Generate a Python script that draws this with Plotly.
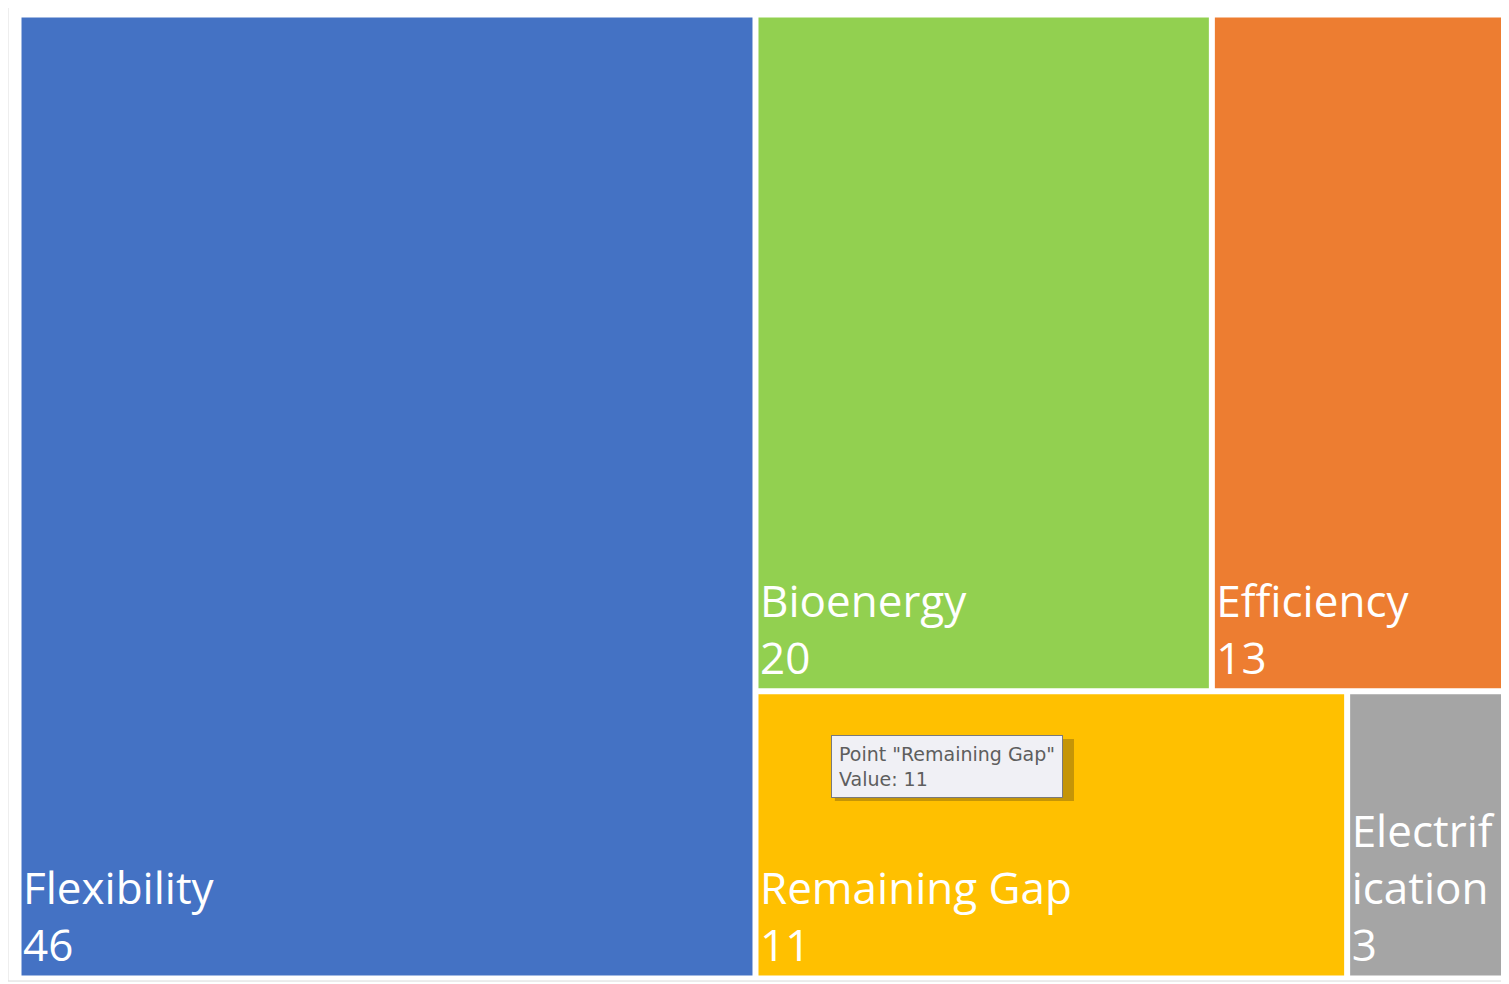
import plotly.graph_objects as go

labels = ["Flexibility", "Bioenergy", "Efficiency", "Remaining Gap", "Electrification"]
values = [46, 20, 13, 11, 3]
display_text = ["Flexibility", "Bioenergy", "Efficiency", "Remaining Gap", "Electrif<br>ication"]
colors = ["#4472C4", "#92D050", "#ED7D31", "#FFC000", "#A5A5A5"]
parents = ["", "", "", "", ""]

fig = go.Figure(go.Treemap(
    labels=labels,
    parents=parents,
    values=values,
    text=display_text,
    texttemplate="%{text}<br>%{value}",
    textposition="bottom left",
    textfont=dict(family="Open Sans", size=44, color="white"),
    marker=dict(colors=colors, line=dict(color="white", width=3),
                pad=dict(t=0, l=0, r=0, b=0)),
    tiling=dict(packing="squarify", squarifyratio=1.618),
    pathbar=dict(visible=False),
    sort=True,
    hoverinfo="skip",
))

fig.update_layout(
    width=1509, height=984,
    margin=dict(l=12, r=10, t=8, b=15),
    paper_bgcolor="white",
    showlegend=False,
    shapes=[
        dict(type="rect", xref="paper", yref="paper",
             x0=-0.0081, x1=1.02, y0=-0.0042, y1=1.0114,
             line=dict(color="#D9D9D9", width=1), fillcolor="rgba(0,0,0,0)"),
        dict(type="rect", xref="paper", yref="paper",
             x0=0.548, x1=0.7088, y0=0.1831, y1=0.2477,
             line=dict(width=0), fillcolor="rgba(90,70,20,0.35)"),
    ],
    annotations=[
        dict(text="Point \"Remaining Gap\"<br>Value: 11", xref="paper", yref="paper",
             x=0.5454, y=0.2518, xanchor="left", yanchor="top", showarrow=False,
             align="left", font=dict(family="DejaVu Sans", size=19, color="#5E5E5E"),
             bgcolor="#F0F0F5", bordercolor="#7A7A7A", borderwidth=1, borderpad=7),
    ],
)

fig.write_html("out.html")
